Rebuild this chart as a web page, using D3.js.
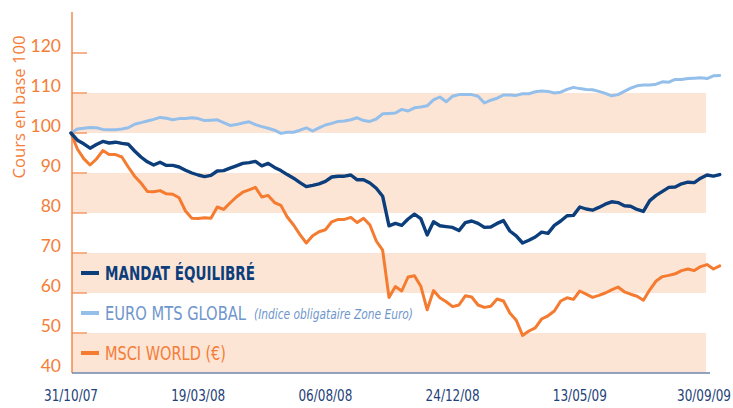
<!DOCTYPE html>
<html>
<head>
<meta charset="utf-8">
<script src="https://cdn.jsdelivr.net/npm/d3@7"></script>
<style>
  html, body { margin: 0; padding: 0; background: #fff; }
  svg { display: block; }
</style>
</head>
<body>
<svg id="chart" width="733" height="408"></svg>
<script>
// ---------- DATA ----------
const START_DATE = "31/10/07";           // first weekly observation
const xTickLabels = ["31/10/07", "19/03/08", "06/08/08", "24/12/08", "13/05/09", "30/09/09"];
const yTicks = [40, 50, 60, 70, 80, 90, 100, 110, 120];
const seriesNames = ["MANDAT ÉQUILIBRÉ", "EURO MTS GLOBAL", "MSCI WORLD (€)"];
const legendNote = "(Indice obligataire Zone Euro)";
const yTitle = "Cours en base 100";

const mandat = [100, 98.2, 97.3, 96.2, 97.1, 97.9, 97.5, 97.7, 97.4, 97.2,
  95.5, 94.0, 92.8, 92.0, 92.7, 91.9, 91.9, 91.5, 90.7, 90.0,
  89.5, 89.1, 89.4, 90.5, 90.6, 91.2, 91.8, 92.4, 92.6, 92.9,
  91.8, 92.4, 91.4, 90.6, 89.6, 88.7, 87.6, 86.6, 86.9, 87.3,
  87.9, 89.0, 89.2, 89.2, 89.5, 88.3, 88.3, 87.5, 86.2, 84.2,
  76.8, 77.4, 76.9, 78.5, 79.7, 78.6, 74.5, 77.8, 76.8, 76.6,
  76.4, 75.6, 77.6, 78.0, 77.4, 76.4, 76.5, 77.4, 78.1, 75.5,
  74.3, 72.5, 73.2, 74.0, 75.2, 74.9, 76.9, 78.0, 79.3, 79.4,
  81.5, 81.0, 80.7, 81.4, 82.2, 82.8, 82.6, 81.8, 81.7, 80.9,
  80.4, 83.1, 84.4, 85.4, 86.4, 86.5, 87.3, 87.7, 87.6, 88.7,
  89.5, 89.2, 89.6];

const euroMts = [100, 101.0, 101.2, 101.4, 101.3, 100.9, 100.8, 100.8, 101.0, 101.3,
  102.2, 102.6, 103.0, 103.4, 103.9, 103.7, 103.3, 103.6, 103.6, 103.8,
  103.6, 103.1, 103.2, 103.3, 102.6, 101.9, 102.1, 102.5, 102.8, 102.1,
  101.6, 101.2, 100.7, 99.9, 100.2, 100.2, 100.7, 101.3, 100.5, 101.3,
  102.0, 102.4, 102.9, 103.0, 103.3, 103.8, 103.1, 102.9, 103.5, 104.8,
  104.9, 105.0, 105.9, 105.5, 106.3, 106.5, 106.8, 108.3, 109.0, 107.8,
  109.2, 109.6, 109.6, 109.6, 109.2, 107.5, 108.2, 108.7, 109.5, 109.5,
  109.4, 109.8, 109.8, 110.3, 110.5, 110.4, 110.0, 110.2, 110.9, 111.4,
  111.1, 110.9, 110.8, 110.4, 109.9, 109.3, 109.6, 110.4, 111.2, 111.8,
  112.0, 112.0, 112.2, 112.8, 112.7, 113.4, 113.4, 113.6, 113.7, 113.8,
  113.6, 114.3, 114.4];

const msci = [100, 96.0, 93.6, 92.0, 93.5, 95.6, 94.6, 94.6, 94.0, 91.5,
  89.2, 87.5, 85.4, 85.3, 85.6, 84.8, 84.7, 83.8, 80.5, 78.7,
  78.6, 78.8, 78.7, 81.5, 80.9, 82.5, 84.0, 85.2, 85.8, 86.4,
  84.0, 84.4, 82.6, 81.9, 79.0, 77.0, 74.6, 72.5, 74.3, 75.3,
  75.8, 77.8, 78.4, 78.4, 78.9, 77.6, 78.7, 77.0, 73.0, 70.7,
  58.9, 61.6, 60.5, 64.0, 64.3, 61.7, 55.8, 60.6, 58.8, 57.8,
  56.6, 57.0, 59.3, 59.0, 57.0, 56.4, 56.7, 58.5, 58.0, 55.0,
  53.2, 49.4, 50.5, 51.3, 53.5, 54.3, 55.5, 58.0, 58.8, 58.4,
  60.5, 59.7, 58.9, 59.4, 60.0, 60.8, 61.5, 60.3, 59.7, 59.2,
  58.2, 60.8, 63.0, 64.1, 64.4, 64.8, 65.6, 66.0, 65.6, 66.6,
  67.1, 66.0, 66.8];

// ---------- SETUP ----------
const W = 733;
const svg = d3.select("#chart");
const parse = d3.timeParse("%d/%m/%y");
const start = parse(START_DATE);
const dates = mandat.map((_, i) => d3.timeDay.offset(start, 7 * i));
const tickDates = xTickLabels.map(parse);

const left = 72, right = 707, plotRight = 706;
const x = d3.scaleTime().domain([tickDates[0], tickDates[tickDates.length - 1]]).range([71, right]);
const y = d3.scaleLinear().domain([40, 120]).range([373, 53]);

const ORANGE = "#f47b30";
const ORANGE_TXT = "#f47d38";
const BAND = "#fde5d5";
const DARK = "#0c3e7b";
const LIGHT = "#94bfea";
const LIGHT_TXT = "#6f96cc";
const XLAB = "#1e4279";
const COND = "'DejaVu Sans Condensed', 'DejaVu Sans', sans-serif";

// bands
const bands = [[40, 50], [60, 70], [80, 90], [100, 110]];
svg.append("g").selectAll("rect").data(bands).join("rect")
  .attr("x", left).attr("width", plotRight - left)
  .attr("y", d => y(d[1])).attr("height", d => y(d[0]) - y(d[1]))
  .attr("fill", BAND);

// y ticks (short marks)
svg.append("g").selectAll("line").data(yTicks.slice(1)).join("line")
  .attr("x1", left).attr("x2", 87)
  .attr("y1", d => y(d)).attr("y2", d => y(d))
  .attr("stroke", "#f59a66").attr("stroke-width", 1.5);

// y tick labels
svg.append("g").selectAll("text").data(yTicks).join("text")
  .attr("x", 61).attr("y", d => y(d) - 5)
  .attr("text-anchor", "end").attr("dominant-baseline", "middle")
  .attr("font-family", "Lato, 'Open Sans', sans-serif")
  .attr("font-size", 17.5).attr("fill", ORANGE_TXT)
  .text(d => d);

// y axis line
svg.append("line").attr("x1", left).attr("x2", left).attr("y1", 12).attr("y2", y(40))
  .attr("stroke", "#f08a50").attr("stroke-width", 1.5);

// bottom axis
svg.append("line").attr("x1", left).attr("x2", 710).attr("y1", y(40)).attr("y2", y(40))
  .attr("stroke", "#6e84ad").attr("stroke-width", 1.6);

// y title
svg.append("text")
  .attr("transform", "translate(25,107) rotate(-90)")
  .attr("text-anchor", "middle")
  .attr("font-family", "'Open Sans', Lato, sans-serif")
  .attr("font-size", 17).attr("fill", ORANGE_TXT)
  .attr("textLength", 143).attr("lengthAdjust", "spacingAndGlyphs")
  .text(yTitle);

// x labels (horizontally condensed via transform so the box stays inside the frame)
const xlW = 54;
svg.append("g").selectAll("text").data(tickDates).join("text")
  .attr("text-anchor", "middle")
  .attr("font-family", COND)
  .attr("font-size", 16).attr("fill", XLAB)
  .text((d, i) => xTickLabels[i])
  .each(function (d) {
    const w = this.getComputedTextLength();
    const sx = xlW / w;
    const cx = Math.min(x(d), W - xlW / 2 - 2);
    d3.select(this).attr("transform", `translate(${cx},401) scale(${sx},1)`);
  });

// lines
const line = d3.line().x((d, i) => x(dates[i])).y(d => y(d));
const series = [
  { vals: euroMts, color: LIGHT, w: 3 },
  { vals: msci, color: ORANGE, w: 3 },
  { vals: mandat, color: DARK, w: 3.4 }
];
svg.append("g").selectAll("path").data(series).join("path")
  .attr("d", d => line(d.vals))
  .attr("fill", "none").attr("stroke", d => d.color).attr("stroke-width", d => d.w)
  .attr("stroke-linejoin", "round").attr("stroke-linecap", "round");

// legend
const legend = [
  { name: seriesNames[0], color: DARK, txt: DARK, weight: "bold", cy: 273, len: 150 },
  { name: seriesNames[1], color: LIGHT, txt: LIGHT_TXT, weight: "normal", cy: 313, len: 141 },
  { name: seriesNames[2], color: ORANGE, txt: ORANGE_TXT, weight: "normal", cy: 353, len: 121 }
];
const lg = svg.append("g");
legend.forEach((d, i) => {
  lg.append("line").attr("x1", 81).attr("x2", 99).attr("y1", d.cy).attr("y2", d.cy)
    .attr("stroke", d.color).attr("stroke-width", 4);
  lg.append("text").attr("x", 105).attr("y", d.cy)
    .attr("dominant-baseline", "central")
    .attr("font-family", COND)
    .attr("font-size", 19).attr("font-weight", d.weight).attr("fill", d.txt)
    .attr("textLength", d.len).attr("lengthAdjust", "spacingAndGlyphs")
    .text(d.name);
  if (i === 1) {
    lg.append("text").attr("x", 254).attr("y", d.cy + 1)
      .attr("dominant-baseline", "central")
      .attr("font-family", COND)
      .attr("font-size", 14).attr("font-style", "italic").attr("fill", LIGHT_TXT)
      .attr("textLength", 159).attr("lengthAdjust", "spacingAndGlyphs")
      .text(legendNote);
  }
});
</script>
</body>
</html>
